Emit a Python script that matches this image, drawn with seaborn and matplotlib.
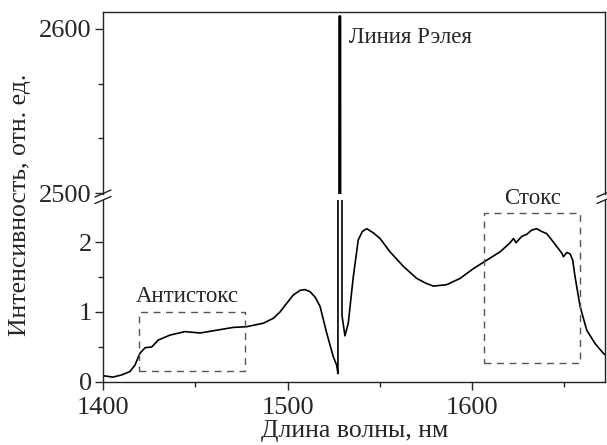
# ===================== 1. imports =====================
import numpy as np
import pandas as pd
import matplotlib
matplotlib.use('Agg')
import matplotlib.pyplot as plt
from matplotlib.ticker import FixedLocator
from matplotlib.lines import Line2D
import seaborn as sns

sns.set_style('ticks')
plt.rcParams['font.family'] = ['Liberation Serif', 'DejaVu Serif']

# ===================== 2. data =====================
wavelength = [
    1400.0, 1405.4, 1410.0, 1414.6, 1417.3, 1420.0, 1422.8, 1426.4, 1430.0,
    1436.3, 1444.4, 1452.6, 1461.6, 1470.6, 1477.8, 1486.9, 1492.3, 1495.9,
    1499.4, 1503.0, 1506.8, 1509.5, 1512.2, 1515.0, 1517.6, 1521.2, 1524.8,
    1526.6, 1527.3, 1527.9, 1528.3, 1528.7, 1529.5, 1531.1, 1532.9, 1535.6,
    1538.3, 1540.5, 1542.9, 1546.5, 1550.1, 1555.5, 1562.8, 1570.0, 1575.0,
    1579.0, 1586.2, 1593.5, 1600.7, 1607.9, 1615.2, 1620.6, 1622.4, 1623.8,
    1626.9, 1629.6, 1632.3, 1635.0, 1637.7, 1640.4, 1644.0, 1648.6, 1649.5,
    1651.3, 1653.1, 1654.5, 1655.8, 1658.5, 1662.1, 1666.6, 1671.1, 1672.0,
]
intensity = [
    0.09, 0.07, 0.10, 0.15, 0.24, 0.41, 0.49, 0.50, 0.60,
    0.67, 0.72, 0.70, 0.74, 0.78, 0.79, 0.84, 0.91, 1.00,
    1.12, 1.24, 1.31, 1.32, 1.29, 1.21, 1.08, 0.70, 0.36,
    0.24, 0.12, 2607.5, 2608.0, 2607.5, 0.95, 0.66, 0.84, 1.50,
    2.03, 2.15, 2.19, 2.13, 2.05, 1.86, 1.65, 1.48, 1.41,
    1.37, 1.39, 1.48, 1.62, 1.74, 1.86, 1.99, 2.05, 1.99,
    2.08, 2.11, 2.17, 2.19, 2.15, 2.12, 2.00, 1.84, 1.79,
    1.85, 1.83, 1.74, 1.50, 1.08, 0.74, 0.55, 0.41, 0.39,
]
spectrum = pd.DataFrame({'wl': wavelength, 'I': intensity})

# dashed regions: (x0, x1, y0, y1)
antistokes_box = (1419.5, 1476.9, 0.16, 1.00)
stokes_box = (1606.4, 1658.6, 0.27, 2.42)

x_major = [1400, 1500, 1600]
x_minor = [1450, 1550, 1650]
low_major = [0, 1, 2]
low_minor = [0.5, 1.5]
top_major = [2500, 2600]
top_minor = [2533.3, 2566.7]

# ===================== 3. figure with broken y axis =====================
W, H = 607, 445
fig = plt.figure(figsize=(W / 100, H / 100), dpi=100)

def fx(px):
    return px / W

def fy(py):
    return 1 - py / H

ax_top = fig.add_axes([fx(103), fy(194), fx(605) - fx(103), fy(12) - fy(194)])
ax_low = fig.add_axes([fx(103), fy(382), fx(605) - fx(103), fy(200) - fy(382)])

for ax in (ax_top, ax_low):
    sns.lineplot(data=spectrum, x='wl', y='I', ax=ax, color='black',
                 linewidth=1.2, sort=False, estimator=None)
    ax.set_xlim(1400, 1672)
    ax.set_xlabel('')
    ax.set_ylabel('')
    for s in ax.spines.values():
        s.set_linewidth(1.0)
        s.set_color('#222222')

ax_top.set_ylim(2499.5, 2610.3)
ax_low.set_ylim(0, 2.6)

ax_top.spines['bottom'].set_visible(False)
ax_low.spines['top'].set_visible(False)

ax_top.tick_params(axis='x', which='both', bottom=False, labelbottom=False)
ax_top.yaxis.set_major_locator(FixedLocator(top_major))
ax_top.yaxis.set_minor_locator(FixedLocator(top_minor))
ax_low.yaxis.set_major_locator(FixedLocator(low_major))
ax_low.yaxis.set_minor_locator(FixedLocator(low_minor))
ax_low.xaxis.set_major_locator(FixedLocator(x_major))
ax_low.xaxis.set_minor_locator(FixedLocator(x_minor))

for ax in (ax_top, ax_low):
    ax.tick_params(which='major', length=6, width=1.0, labelsize=19, pad=2)
    ax.tick_params(which='minor', length=3.5, width=1.0)
ax_low.tick_params(axis='x', which='major', pad=5)

# dashed boxes
for (x0, x1, y0, y1) in (antistokes_box, stokes_box):
    ax_low.plot([x0, x1, x1, x0, x0], [y0, y0, y1, y1, y0],
                linestyle=(0, (5, 4)), color='#555555', linewidth=1.0)

# annotations
ax_top.text(1533.2, 2595, 'Линия Рэлея', fontsize=16.5, va='center', ha='left')
ax_low.text(1633.0, 2.62, 'Стокс', fontsize=16.5, va='center', ha='center',
            clip_on=False)
ax_low.text(1445.5, 1.22, 'Антистокс', fontsize=16.5, va='center', ha='center')

# break marks
for xc in (103, 605):
    for yc in (193.5, 200.0):
        fig.add_artist(Line2D([fx(xc - 8), fx(xc + 8)], [fy(yc + 3.5), fy(yc - 3.5)],
                              color='#222222', linewidth=1.0))

# axis labels
fig.text(fx(355), fy(431), 'Длина волны, нм', fontsize=18.5, ha='center', va='center')
fig.text(fx(20), fy(205), 'Интенсивность, отн. ед.', fontsize=18.5, ha='center',
         va='center', rotation=90)

fig.savefig('out.png', dpi=100)
